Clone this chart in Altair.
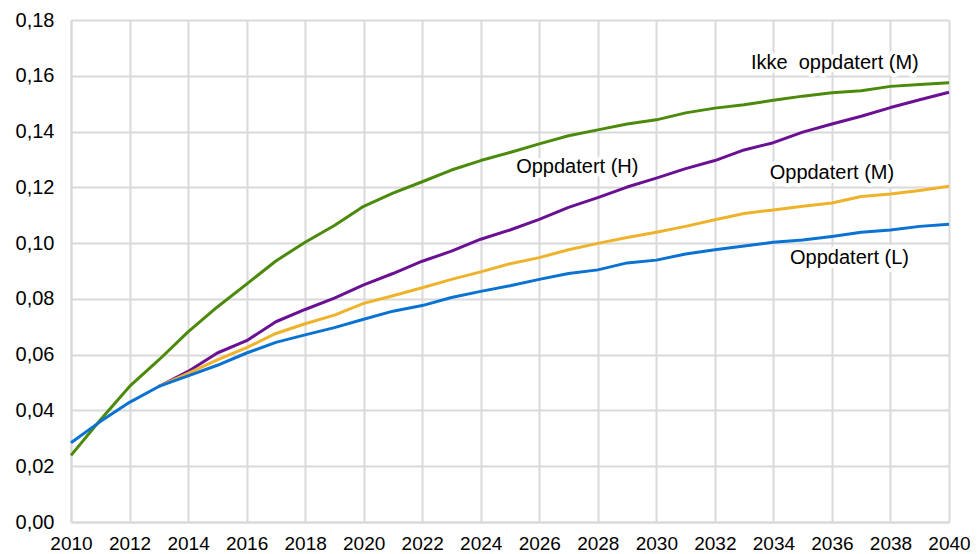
import altair as alt
import pandas as pd

years = list(range(2010, 2041))
ikke_oppdatert_m = [0.0239, 0.0366, 0.0486, 0.0581, 0.0682, 0.0771, 0.0853, 0.0936, 0.1003, 0.1063,
                    0.1132, 0.1179, 0.1220, 0.1262, 0.1296, 0.1325, 0.1356, 0.1385, 0.1406, 0.1427,
                    0.1442, 0.1467, 0.1484, 0.1496, 0.1512, 0.1527, 0.1539, 0.1546, 0.1562, 0.1569, 0.1575]
oppdatert_l = [0.0284, 0.0360, 0.0429, 0.0486, 0.0524, 0.0562, 0.0606, 0.0644, 0.0671, 0.0697,
               0.0727, 0.0756, 0.0776, 0.0805, 0.0827, 0.0847, 0.0870, 0.0891, 0.0904, 0.0929,
               0.0939, 0.0961, 0.0976, 0.0990, 0.1003, 0.1011, 0.1024, 0.1039, 0.1047, 0.1060, 0.1068]
years_split = list(range(2013, 2041))
oppdatert_h = [0.0486, 0.0540, 0.0606, 0.0650, 0.0718, 0.0762, 0.0803, 0.0850, 0.0891, 0.0935,
               0.0971, 0.1014, 0.1047, 0.1085, 0.1128, 0.1163, 0.1201, 0.1233, 0.1267, 0.1296,
               0.1334, 0.1360, 0.1398, 0.1427, 0.1455, 0.1486, 0.1514, 0.1541]
oppdatert_m = [0.0486, 0.0533, 0.0581, 0.0625, 0.0676, 0.0711, 0.0742, 0.0784, 0.0811, 0.0840,
               0.0870, 0.0897, 0.0926, 0.0948, 0.0976, 0.0999, 0.1020, 0.1039, 0.1060, 0.1084,
               0.1106, 0.1119, 0.1132, 0.1144, 0.1167, 0.1176, 0.1189, 0.1204]

label_texts = ["Ikke\u00a0 oppdatert (M)", "Oppdatert (H)", "Oppdatert (M)", "Oppdatert (L)"]
label_x = [2036.1, 2027.3, 2036.0, 2036.6]
label_y = [0.1646, 0.1273, 0.1251, 0.0945]

x_ticks = list(range(2010, 2041, 2))
y_ticks = [round(i * 0.02, 2) for i in range(10)]

GRID = "#d9d9d9"
FONT = "Liberation Sans"

x_scale = alt.Scale(domain=[2010, 2040], nice=False, zero=False)
y_scale = alt.Scale(domain=[0, 0.18], nice=False)

x_axis = alt.Axis(values=x_ticks, format="d", title=None, grid=True, gridColor=GRID, gridWidth=2,
                  domainColor=GRID, domainWidth=2, ticks=False, labelFont=FONT, labelFontSize=19,
                  labelColor="#000000", labelPadding=12, labelBaseline="top", labelFlush=False,
                  labelOverlap=False)
y_axis = alt.Axis(values=y_ticks, title=None, grid=True, gridColor=GRID, gridWidth=2,
                  domainColor=GRID, domainWidth=2, ticks=False, labelFont=FONT, labelFontSize=20,
                  labelColor="#000000", labelPadding=17,
                  labelExpr="replace(format(datum.value, '.2f'), '.', ',')")


def series(xs, ys, color):
    df = pd.DataFrame({"year": xs, "value": ys})
    return alt.Chart(df).mark_line(strokeWidth=3, color=color, strokeJoin="round").encode(
        x=alt.X("year:Q", scale=x_scale, axis=x_axis),
        y=alt.Y("value:Q", scale=y_scale, axis=y_axis),
    )


green = series(years, ikke_oppdatert_m, "#4b8a0b")
purple = series(years_split, oppdatert_h, "#6a1093")
yellow = series(years_split, oppdatert_m, "#efb22b")
blue = series(years, oppdatert_l, "#0a72d2")

labels_df = pd.DataFrame({"text": label_texts, "year": label_x, "value": label_y})
halo = alt.Chart(labels_df).mark_text(font=FONT, fontSize=20, stroke="white", strokeWidth=8,
                                      strokeJoin="round", color="white", align="center",
                                      baseline="middle").encode(
    x=alt.X("year:Q", scale=x_scale), y=alt.Y("value:Q", scale=y_scale), text="text:N")
texts = alt.Chart(labels_df).mark_text(font=FONT, fontSize=20, color="#000000", align="center",
                                       baseline="middle").encode(
    x=alt.X("year:Q", scale=x_scale), y=alt.Y("value:Q", scale=y_scale), text="text:N")

chart = alt.layer(green, purple, yellow, blue, halo, texts).properties(
    width=878, height=502,
    autosize=alt.AutoSizeParams(type="none"),
    padding={"left": 63, "top": 12, "right": 21, "bottom": 34},
    background="white",
).configure_view(stroke=None)

chart.save("out.html", embed_options={"renderer": "svg", "actions": False})
